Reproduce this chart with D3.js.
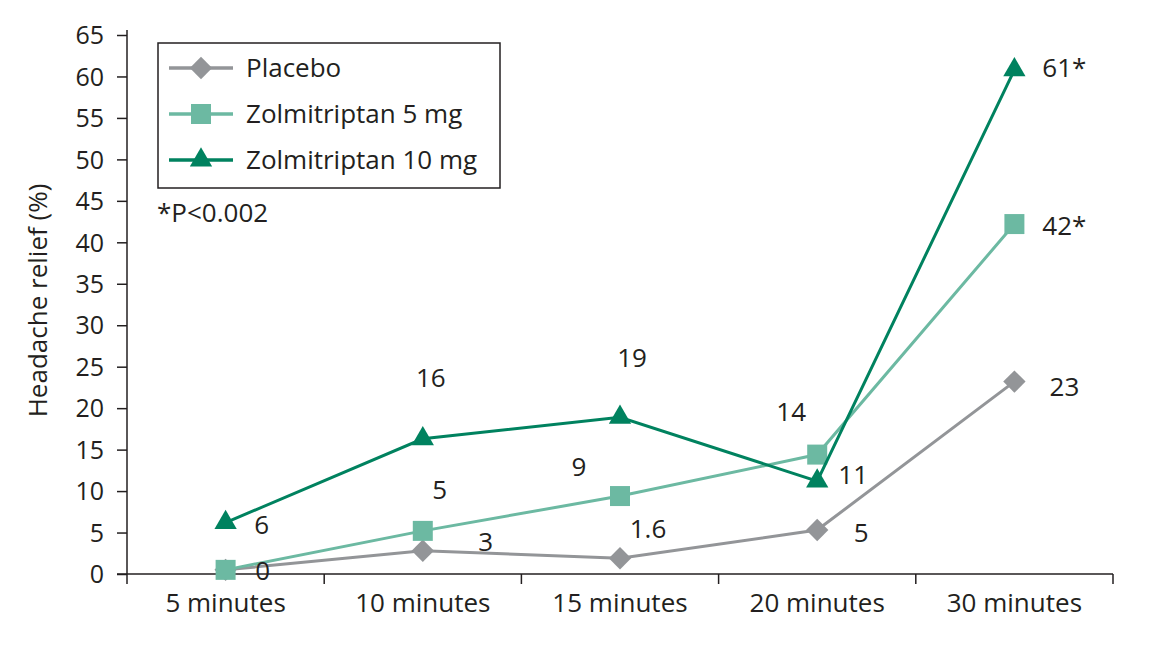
<!DOCTYPE html>
<html>
<head>
<meta charset="utf-8">
<script src="https://d3js.org/d3.v7.min.js"></script>
<style>
  body { margin: 0; background: #fff; }
  text { font-family: "Open Sans", "Noto Sans", sans-serif; fill: #231f20; }
</style>
</head>
<body>
<div id="chart"></div>
<script>
// Chart data
var timepoints = ["5 minutes", "10 minutes", "15 minutes", "20 minutes", "30 minutes"];
var seriesNames = ["Placebo", "Zolmitriptan 5 mg", "Zolmitriptan 10 mg"];
var placebo = [0.5, 2.8, 1.9, 5.3, 23.2];
var zolmi5 = [0.5, 5.2, 9.4, 14.4, 42.2];
var zolmi10 = [6.2, 16.3, 18.9, 11.2, 60.8];
var placeboLabels = ["0", "3", "1.6", "5", "23"];
var zolmi5Labels = [null, "5", "9", "14", "42*"];
var zolmi10Labels = ["6", "16", "19", "11", "61*"];
var yTicks = d3.range(0, 70, 5);

var svgWidth = 1153;
var svgHeight = 648;
var margin = { top: 35, right: 40, bottom: 74, left: 127 };
var width = svgWidth - margin.left - margin.right;
var height = svgHeight - margin.top - margin.bottom;

var colors = ["#939598", "#6cb9a2", "#00825f"];

var svg = d3.select("#chart")
  .append("svg")
  .attr("width", svgWidth)
  .attr("height", svgHeight);

var chartGroup = svg.append("g")
  .attr("transform", `translate(${margin.left}, ${margin.top})`);

// Scales
var xScale = d3.scaleBand()
  .domain(timepoints)
  .range([0, width]);

var yScale = d3.scaleLinear()
  .domain([0, 65])
  .range([height, 0]);

var xc = d => xScale(d) + xScale.bandwidth() / 2;

// Y axis
var leftAxis = d3.axisLeft(yScale)
  .tickValues(yTicks)
  .tickSize(10)
  .tickPadding(13);

var yAxisG = chartGroup.append("g").call(leftAxis);
yAxisG.select(".domain").remove();
yAxisG.selectAll("line").attr("stroke", "#231f20").attr("stroke-width", 1.5);
yAxisG.selectAll("text")
  .style("font-size", "25px")
  .attr("dy", "0.35em");

chartGroup.append("line")
  .attr("x1", 0).attr("x2", 0)
  .attr("y1", -5).attr("y2", height)
  .attr("stroke", "#231f20").attr("stroke-width", 1.5);

// X axis with ticks at band edges
var xAxisG = chartGroup.append("g")
  .attr("transform", `translate(0, ${height})`);

xAxisG.append("line")
  .attr("x1", -10).attr("x2", width)
  .attr("stroke", "#231f20").attr("stroke-width", 1.5);

var edges = timepoints.map(d => xScale(d)).concat([width]);
xAxisG.selectAll(".edgeTick")
  .data(edges)
  .enter()
  .append("line")
  .attr("x1", d => d).attr("x2", d => d)
  .attr("y1", 0).attr("y2", 10)
  .attr("stroke", "#231f20").attr("stroke-width", 1.5);

xAxisG.selectAll(".xLabel")
  .data(timepoints)
  .enter()
  .append("text")
  .attr("x", d => xc(d))
  .attr("y", 38)
  .attr("text-anchor", "middle")
  .style("font-size", "26px")
  .text(d => d);

// Axis title
chartGroup.append("text")
  .attr("transform", "rotate(-90)")
  .attr("x", -(height / 2) + 4)
  .attr("y", -margin.left + 47)
  .attr("text-anchor", "middle")
  .style("font-size", "26px")
  .text("Headache relief (%)");

// Markers
var symbols = [
  d3.symbol().type(d3.symbolSquare).size(250),
  d3.symbol().type(d3.symbolSquare).size(400),
  d3.symbol().type(d3.symbolTriangle).size(215)
];
var symbolRotate = [45, 0, 0];

var allSeries = [
  { values: placebo, labels: placeboLabels },
  { values: zolmi5, labels: zolmi5Labels },
  { values: zolmi10, labels: zolmi10Labels }
];

// label nudges [dx, dy] per point, in pixels
var labelNudge = [
  [[37, 1], [63, -9], [28, -29], [44, 3], [50, 5]],
  [[0, 0], [17, -41], [-41, -29], [-26, -43], [50, 2]],
  [[36, 2], [8, -61], [12, -59], [36, -6], [50, -2]]
];

var line = d3.line()
  .x(d => xc(d.t))
  .y(d => yScale(d.v));

allSeries.forEach(function(s, i) {
  var pts = s.values.map((v, j) => ({ t: timepoints[j], v: v, label: s.labels[j], j: j }));

  chartGroup.append("path")
    .datum(pts)
    .attr("d", line)
    .attr("fill", "none")
    .attr("stroke", colors[i])
    .attr("stroke-width", 3);

  chartGroup.selectAll(".mark" + i)
    .data(pts)
    .enter()
    .append("path")
    .attr("d", symbols[i])
    .attr("transform", d => `translate(${xc(d.t)}, ${yScale(d.v)}) rotate(${symbolRotate[i]})`)
    .attr("fill", colors[i]);
});

// Value labels drawn on top
allSeries.forEach(function(s, i) {
  var pts = s.values.map((v, j) => ({ t: timepoints[j], v: v, label: s.labels[j], j: j }))
    .filter(d => d.label !== null);

  chartGroup.selectAll(".valLabel" + i)
    .data(pts)
    .enter()
    .append("text")
    .attr("x", d => xc(d.t) + labelNudge[i][d.j][0])
    .attr("y", d => yScale(d.v) + labelNudge[i][d.j][1])
    .attr("dy", "0.35em")
    .attr("text-anchor", "middle")
    .style("font-size", "26px")
    .text(d => d.label);
});

// Legend
var legend = svg.append("g").attr("transform", "translate(158, 43)");
legend.append("rect")
  .attr("width", 342).attr("height", 145)
  .attr("fill", "#fff")
  .attr("stroke", "#231f20").attr("stroke-width", 1.5);

seriesNames.forEach(function(name, i) {
  var ly = 25 + i * 46;
  var row = legend.append("g").attr("transform", `translate(0, ${ly})`);
  row.append("line")
    .attr("x1", 11).attr("x2", 75)
    .attr("stroke", colors[i]).attr("stroke-width", 3.5);
  row.append("path")
    .attr("d", symbols[i])
    .attr("transform", `translate(43, 0) rotate(${symbolRotate[i]})`)
    .attr("fill", colors[i]);
  row.append("text")
    .attr("x", 88)
    .attr("dy", "0.35em")
    .style("font-size", "26px")
    .text(name);
});

svg.append("text")
  .attr("x", 157)
  .attr("y", 213)
  .attr("dy", "0.35em")
  .style("font-size", "26px")
  .text("*P<0.002");
</script>
</body>
</html>
